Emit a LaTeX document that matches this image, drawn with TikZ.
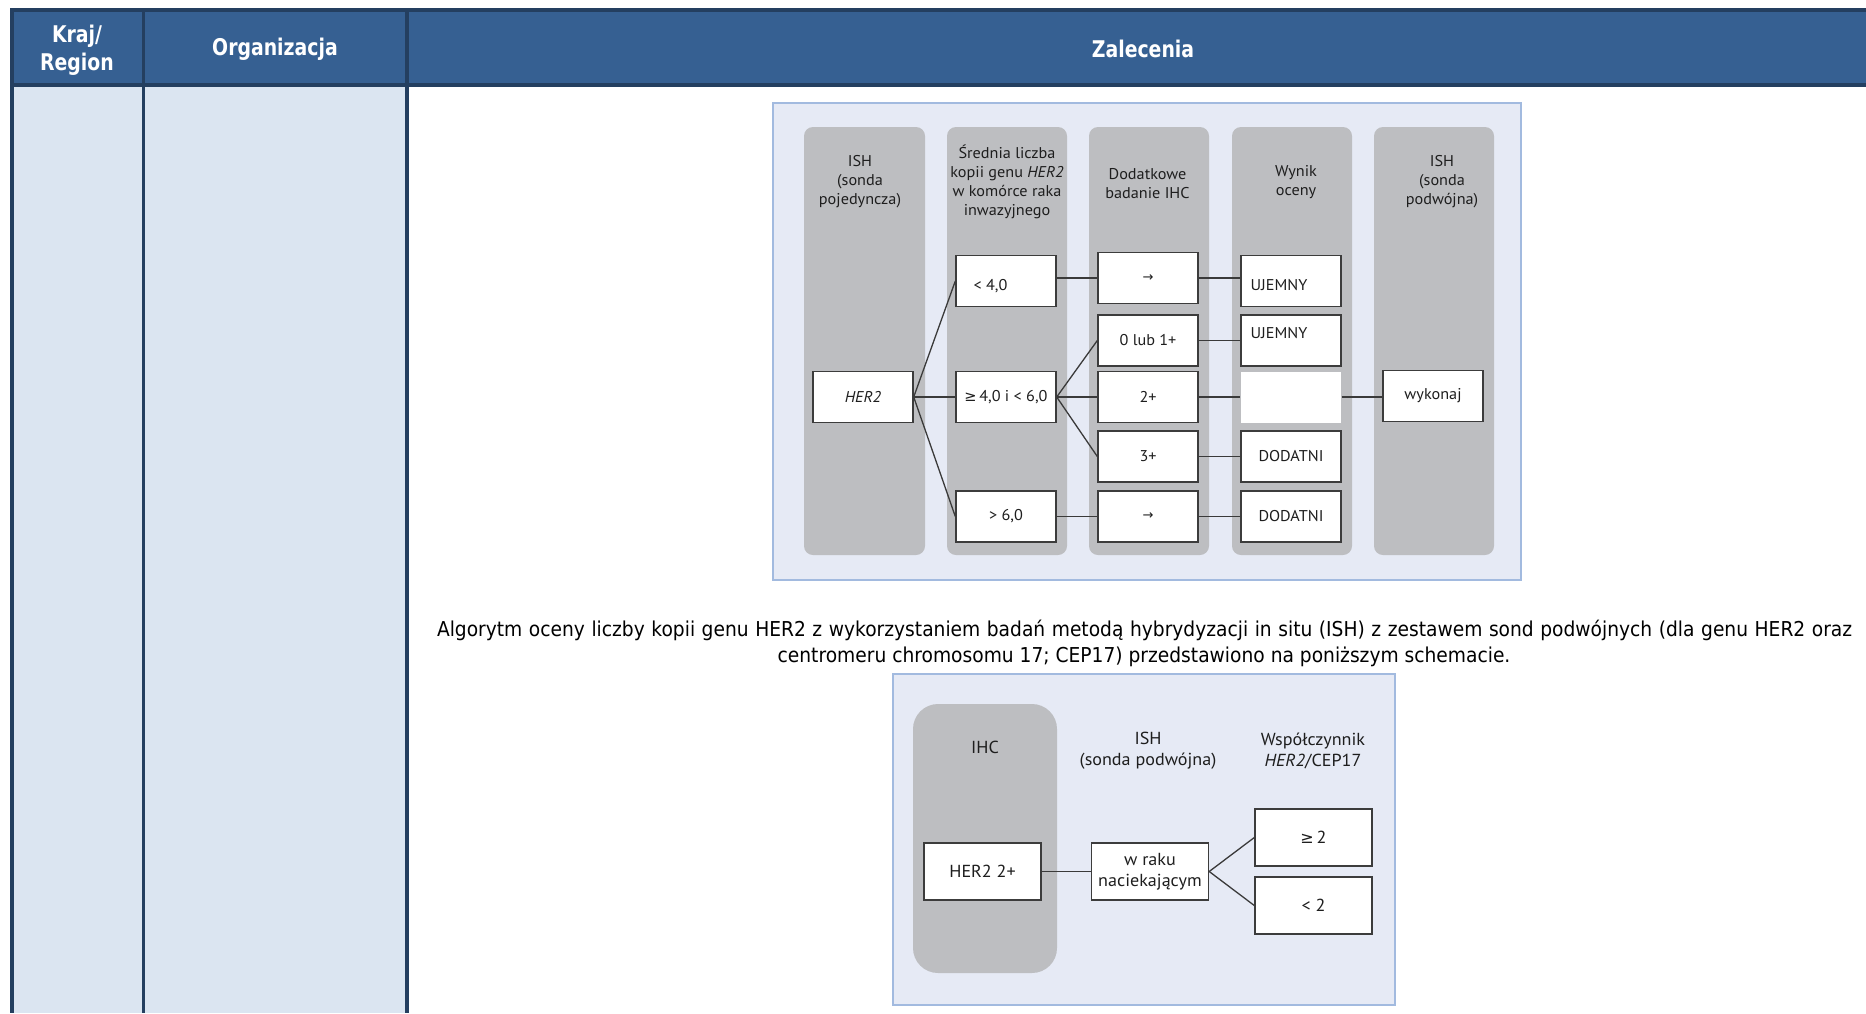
\documentclass[tikz,border=0pt]{standalone}
\usepackage{fontspec}
\setmainfont{PT Sans}
\newfontfamily\hdrfont[FakeStretch=0.82]{DejaVu Sans}
\newfontfamily\parfont[FakeStretch=0.91]{DejaVu Sans}
\newfontfamily\dgfont[FakeStretch=1.04]{PT Sans}
\newfontfamily\symfont{DejaVu Sans}
\definecolor{hdrfill}{HTML}{366092}
\definecolor{rulec}{HTML}{243F60}
\definecolor{cellfill}{HTML}{DBE5F1}
\definecolor{framefill}{HTML}{E6EAF5}
\definecolor{framedraw}{HTML}{A2BADF}
\definecolor{lanegray}{HTML}{BDBEC1}
\definecolor{boxline}{HTML}{3C3C3C}
\definecolor{linkc}{HTML}{3A3A3A}
\definecolor{txtc}{HTML}{1E1E1E}
\begin{document}
\begin{tikzpicture}[x=0.5pt,y=-0.5pt,
  hdrtxt/.style={text=white,font=\hdrfont\bfseries\fontsize{11.5}{14}\selectfont,align=center},
  lane/.style={fill=lanegray,draw=none,rounded corners=4.5pt},
  frame/.style={fill=framefill,draw=framedraw,line width=0.75pt},
  bx/.style={draw=boxline,line width=0.7pt,fill=white,minimum width=50pt,minimum height=25.5pt,inner sep=0pt,text=txtc,font=\dgfont\fontsize{7.8}{9.5}\selectfont},
  bbx/.style={draw=boxline,line width=0.7pt,fill=white,minimum width=58.5pt,minimum height=28.5pt,inner sep=0pt,text=txtc,align=center,font=\dgfont\fontsize{8.7}{10.5}\selectfont},
  ctxt/.style={text=txtc,inner sep=0pt,font=\dgfont\fontsize{7.8}{9.5}\selectfont},
  coltitle/.style={text=txtc,align=center,inner sep=0pt,font=\dgfont\fontsize{7.8}{9.5}\selectfont},
  btitle/.style={text=txtc,align=center,inner sep=0pt,font=\dgfont\fontsize{8.7}{10.5}\selectfont},
  link/.style={draw=linkc,line width=0.65pt}]
\useasboundingbox (0,0) rectangle (1866,1013);
\fill[white] (0,0) rectangle (1866,1013);

% table header and column rules
\fill[rulec] (10,8) rectangle (1866,87);
\fill[hdrfill] (14,12) rectangle (142,83);
\fill[hdrfill] (145,12) rectangle (405,83);
\fill[hdrfill] (409,12) rectangle (1866,83);
\fill[cellfill] (14,87) rectangle (142,1013);
\fill[cellfill] (145,87) rectangle (405,1013);
\fill[rulec] (10,87) rectangle (14,1013);
\fill[rulec] (142,87) rectangle (145,1013);
\fill[rulec] (405,87) rectangle (409,1013);

\node[hdrtxt] (hkraj) at (77,50.5) {Kraj/\\Region};
\node[hdrtxt] (horg) at (275,49.5) {Organizacja};
\node[hdrtxt] (hzal) at (1143,48.5) {Zalecenia};

% single-probe ISH algorithm
\draw[frame] (773,103) rectangle (1521,580);
\fill[lane] (804,127) rectangle (925,555);
\fill[lane] (947,127) rectangle (1067,555);
\fill[lane] (1089,127) rectangle (1209,555);
\fill[lane] (1232,127) rectangle (1352,555);
\fill[lane] (1374,127) rectangle (1494,555);

\node[coltitle] (t1) at (860,182) {ISH\\(sonda\\pojedyncza)};
\node[coltitle] (t2) at (1007,182) {Średnia liczba\\kopii genu \textit{HER2}\\w komórce raka\\inwazyjnego};
\node[coltitle] (t3) at (1147.5,183.5) {Dodatkowe\\badanie IHC};
\node[coltitle] (t4) at (1296,182.5) {Wynik\\oceny};
\node[coltitle] (t5) at (1442,182) {ISH\\(sonda\\podwójna)};

\node[bx] (her) at (863,397) {\raisebox{-2pt}{\textit{HER2}}};
\node[bx] (lt4) at (1006,281) {};
\node[ctxt] (lt4t) at (990.5,286) {< 4,0};
\node[bx] (mid) at (1006,397) {{\symfont\fontsize{7.3}{9}\selectfont ≥}\,4,0 i < 6,0};
\node[bx] (gt6) at (1006,516.5) {> 6,0};
\node[bx] (ar1) at (1148,278) {\symfont\fontsize{6.5}{8}\selectfont →};
\node[bx] (z01) at (1148,340.5) {0 lub 1+};
\node[bx] (p2) at (1148,397) {2+};
\node[bx] (p3) at (1148,456.5) {3+};
\node[bx] (ar2) at (1148,516.5) {\symfont\fontsize{6.5}{8}\selectfont →};
\node[bx] (uj1) at (1291,281) {};
\node[ctxt] (uj1t) at (1279,285) {UJEMNY};
\node[bx] (uj2) at (1291,340.5) {};
\node[ctxt] (uj2t) at (1279,333) {UJEMNY};
\node[bx,draw=none] (blank) at (1291,397) {};
\node[bx] (do1) at (1291,456.5) {DODATNI};
\node[bx] (do2) at (1291,516.5) {DODATNI};
\node[bx] (wyk) at (1433,396) {wykonaj};

\draw[link] (her.east) -- (lt4.west);
\draw[link] (her.east) -- (mid.west);
\draw[link] (her.east) -- (gt6.west);
\draw[link] (mid.east) -- (z01.west);
\draw[link] (mid.east) -- (p2.west);
\draw[link] (mid.east) -- (p3.west);
\draw[link] (lt4.east |- ar1.west) -- (ar1.west);
\draw[link] (gt6.east) -- (ar2.west);
\draw[link] (ar1.east) -- (ar1.east -| uj1.west);
\draw[link] (z01.east) -- (uj2.west);
\draw[link] (p2.east) -- (blank.west);
\draw[link] (blank.east) -- (wyk.west |- blank.east);
\draw[link] (p3.east) -- (do1.west);
\draw[link] (ar2.east) -- (do2.west);

% caption paragraph
\node[anchor=base,inner sep=0pt,text=black] (par1) at (1144.5,636)
  {\parfont\fontsize{10.25}{13}\selectfont\makebox[707.5pt][s]{Algorytm oceny liczby kopii genu HER2 z wykorzystaniem badań metodą hybrydyzacji in situ (ISH) z zestawem sond podwójnych (dla genu HER2 oraz}};
\node[anchor=base,inner sep=0pt,text=black] (par2) at (1144,662)
  {\parfont\fontsize{10.25}{13}\selectfont centromeru chromosomu 17; CEP17) przedstawiono na poniższym schemacie.};

% dual-probe ISH algorithm
\draw[frame] (893,674) rectangle (1395,1005);
\fill[lanegray,rounded corners=12.5pt] (913,704) rectangle (1057,973);
\node[btitle] (bt1) at (985,747) {IHC};
\node[btitle] (bt2) at (1148,750.5) {ISH\\(sonda podwójna)};
\node[btitle] (bt3) at (1313,750.5) {Współczynnik\\\textit{HER2}/CEP17};

\node[bbx] (h22) at (982.5,871.5) {HER2 2+};
\node[bbx] (wrk) at (1150,871.5) {w raku\\naciekającym};
\node[bbx] (ge2) at (1313.5,837.5) {{\symfont\fontsize{8}{10}\selectfont ≥}\,2};
\node[bbx] (lt2) at (1313.5,905.5) {< 2};

\draw[link] (h22.east) -- (wrk.west);
\draw[link] (wrk.east) -- (ge2.west);
\draw[link] (wrk.east) -- (lt2.west);
\end{tikzpicture}
\end{document}
